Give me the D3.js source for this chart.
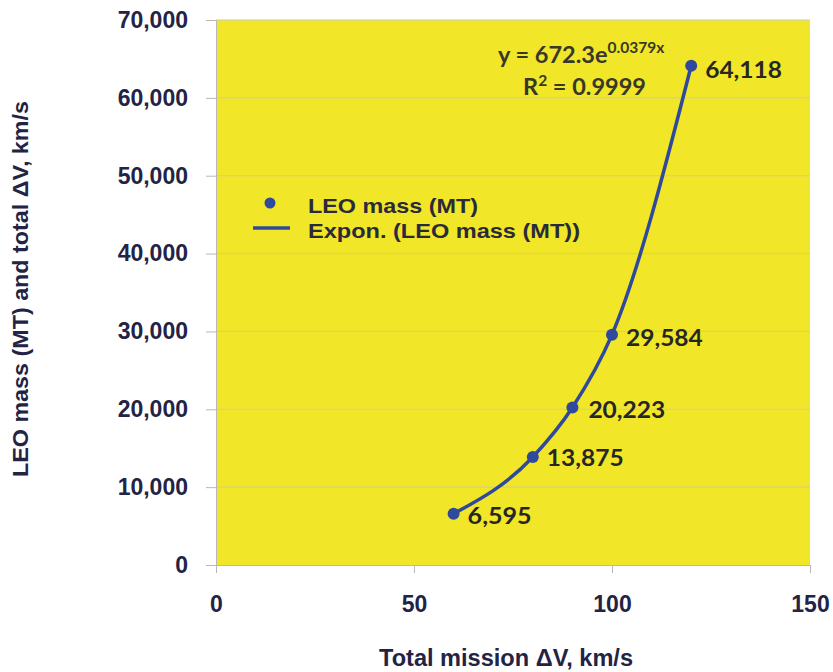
<!DOCTYPE html>
<html><head><meta charset="utf-8">
<script src="https://cdn.jsdelivr.net/npm/d3@7"></script>
<style>body{margin:0;background:#fff}</style>
</head><body>
<svg id="c" width="833" height="672"></svg>
<script>
const deltaV = [60, 80, 90, 100, 120];
const leoMass = [6595, 13875, 20223, 29584, 64118];
const pointLabels = ["6,595", "13,875", "20,223", "29,584", "64,118"];
const xTicks = [0, 50, 100, 150];
const yTicks = [0, 10000, 20000, 30000, 40000, 50000, 60000, 70000];
const legendItems = ["LEO mass (MT)", "Expon. (LEO mass (MT))"];

const svg = d3.select("#c");
const m = {l:216, r:810, t:20, b:565};
const x = d3.scaleLinear().domain([0,150]).range([m.l, m.r]);
const y = d3.scaleLinear().domain([0,70000]).range([m.b, m.t]);
const blue = "#2f4a9c", yellow = "#f1e627", txt = "#232345";
const sans = "Liberation Sans, Arial, sans-serif";

svg.append("rect").attr("x", m.l).attr("y", m.t).attr("width", m.r-m.l).attr("height", m.b-m.t).attr("fill", yellow);

// gridlines
svg.append("g").selectAll("line").data(yTicks.filter(d=>d>0)).join("line")
  .attr("x1", m.l).attr("x2", m.r).attr("y1", d=>y(d)).attr("y2", d=>y(d))
  .attr("stroke", "#cfcba8").attr("stroke-width", 1);

// y axis
const ya = svg.append("g").attr("transform", `translate(${m.l},0)`)
  .call(d3.axisLeft(y).tickValues(yTicks).tickFormat(d3.format(",")).tickSize(10).tickPadding(18));
ya.select(".domain").attr("stroke", "#b8b8b8");
ya.selectAll(".tick line").attr("stroke", "#b8b8b8");
ya.selectAll("text").attr("font-family", sans).attr("font-weight", "bold").attr("font-size", 23).attr("fill", txt);

// x axis
const xa = svg.append("g").attr("transform", `translate(0,${m.b})`)
  .call(d3.axisBottom(x).tickValues(xTicks).tickSize(8).tickPadding(23));
xa.select(".domain").attr("stroke", "#b8b8b8");
xa.selectAll(".tick line").attr("stroke", "#b8b8b8");
xa.selectAll("text").attr("font-family", sans).attr("font-weight", "bold").attr("font-size", 23).attr("fill", txt);

// axis titles
svg.append("text").attr("x", 506).attr("y", 666).attr("text-anchor", "middle")
  .attr("font-family", sans).attr("font-weight", "bold").attr("font-size", 23).attr("fill", txt)
  .attr("textLength", 254).attr("lengthAdjust", "spacingAndGlyphs")
  .text("Total mission ΔV, km/s");
svg.append("text").attr("transform", "translate(28,289) rotate(-90)").attr("text-anchor", "middle")
  .attr("font-family", sans).attr("font-weight", "bold").attr("font-size", 21.5).attr("fill", txt)
  .attr("textLength", 376).attr("lengthAdjust", "spacingAndGlyphs")
  .text("LEO mass (MT) and total ΔV, km/s");

// trend line through points
const pts = deltaV.map((d,i)=>[d, leoMass[i]]);
svg.append("path").datum(pts)
  .attr("d", d3.line().x(d=>x(d[0])).y(d=>y(d[1])).curve(d3.curveMonotoneX))
  .attr("fill", "none").attr("stroke", blue).attr("stroke-width", 3.5);

svg.append("g").selectAll("circle").data(pts).join("circle")
  .attr("cx", d=>x(d[0])).attr("cy", d=>y(d[1])).attr("r", 6).attr("fill", blue);

// data labels
const off = [[14,10],[14,9],[16,10],[14,11],[14,12]];
svg.append("g").selectAll("text").data(pts).join("text")
  .attr("x", (d,i)=>x(d[0])+off[i][0]).attr("y", (d,i)=>y(d[1])+off[i][1])
  .attr("font-family", "Lato, sans-serif").attr("font-weight", "bold").attr("font-size", 22.5).attr("fill", "#262626")
  .attr("textLength", (d,i)=>pointLabels[i].length*12.8).attr("lengthAdjust", "spacingAndGlyphs")
  .text((d,i)=>pointLabels[i]);

// equation
const eq = svg.append("text").attr("x", 498).attr("y", 63)
  .attr("font-family", "Lato, sans-serif").attr("font-weight", "bold").attr("font-size", 23.5).attr("fill", "#38382a");
eq.append("tspan").text("y = 672.3e");
eq.append("tspan").attr("dy", -10).attr("font-size", 15.5).text("0.0379x");
const r2 = svg.append("text").attr("x", 523).attr("y", 95)
  .attr("font-family", "Lato, sans-serif").attr("font-weight", "bold").attr("font-size", 23.5).attr("fill", "#38382a");
r2.append("tspan").text("R");
r2.append("tspan").attr("dy", -9).attr("font-size", 15.5).text("2");
r2.append("tspan").attr("dy", 9).text(" = 0.9999");

// legend
const lg = svg.append("g").attr("font-family", sans).attr("font-weight", "bold").attr("font-size", 21).attr("fill", "#2a2a3a");
lg.append("circle").attr("cx", 270).attr("cy", 203).attr("r", 5.5).attr("fill", blue);
lg.append("line").attr("x1", 253).attr("x2", 290).attr("y1", 228).attr("y2", 228).attr("stroke", blue).attr("stroke-width", 3.5);
const legendLen = [170, 272];
lg.selectAll("text").data(legendItems).join("text")
  .attr("x", 308).attr("y", (d,i)=>213+i*25)
  .attr("textLength", (d,i)=>legendLen[i]).attr("lengthAdjust", "spacingAndGlyphs")
  .text(d=>d);
</script>
</body></html>
